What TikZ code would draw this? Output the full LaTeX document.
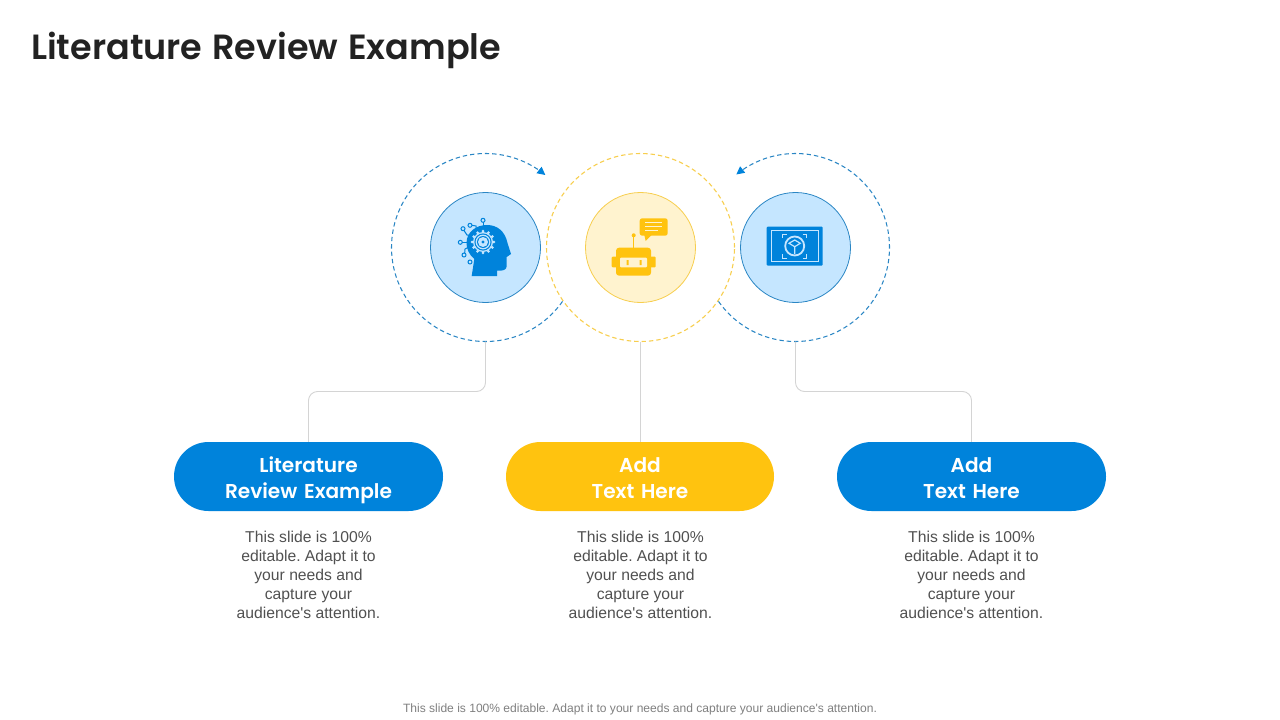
\documentclass[tikz,border=0pt]{standalone}
\usepackage{fontspec}
\setmainfont{Liberation Sans}
\newfontfamily\headfont{Poppins}[BoldFont={Poppins SemiBold},WordSpace=1.2]
\usetikzlibrary{arrows.meta,shapes.misc,calc}
\definecolor{bluemain}{HTML}{0083DB}
\definecolor{bluering}{HTML}{2A86C4}
\definecolor{bluefill}{HTML}{C5E6FF}
\definecolor{yellowmain}{HTML}{FFC30F}
\definecolor{yellowring}{HTML}{F7CE4E}
\definecolor{yellowfill}{HTML}{FFF3CF}
\definecolor{linegray}{HTML}{D4D4D4}
\definecolor{bodytext}{HTML}{505050}
\definecolor{foot}{HTML}{7F7F7F}
\definecolor{titletext}{HTML}{222222}
\newcommand{\pilltext}[2]{\rule{0pt}{26pt}#1\\\strut #2}
\newcommand{\bodycopy}{This slide is 100\%\\editable. Adapt it to\\your needs and\\capture your\\audience\textquotesingle s attention.}
\tikzset{
 hub/.style={circle,inner sep=0pt,minimum size=110pt,line width=.8pt},
 bluehub/.style={hub,draw=bluering,fill=bluefill},
 yellowhub/.style={hub,draw=yellowring,fill=yellowfill},
 ringnode/.style={circle,inner sep=0pt,minimum size=188pt},
 bluearc/.style={draw=bluering,line width=1.05pt,dash pattern=on 4.4pt off 3pt},
 yellowarc/.style={draw=yellowring,line width=1.1pt,dash pattern=on 4.4pt off 3pt},
 arrowpart/.style={-{Triangle[length=8pt,width=8pt,color=bluemain]}},
 conn/.style={draw=linegray,line width=.9pt,rounded corners=9pt},
 pill/.style={rounded rectangle,inner sep=0pt,minimum width=269pt,minimum height=69pt,text width=230pt,align=center,text=white,
   font=\headfont\bfseries\fontsize{20.1}{26}\selectfont},
 body/.style={align=center,text=bodytext,inner sep=0pt,font=\frenchspacing\fontsize{15.7}{19}\selectfont},
}
\begin{document}
\begin{tikzpicture}[x=1pt,y=-1pt]
\useasboundingbox (0,0) rectangle (1280,720);
\node[anchor=west,inner sep=0pt,text=titletext,font=\headfont\bfseries\fontsize{35}{40}\selectfont] (title) at (31,50.5) {Literature Review Example};
% rings
\node[ringnode] (ring1) at (485.5,247.5) {};
\node[ringnode] (ring3) at (795.5,247.5) {};
\node[ringnode,yellowarc] (ring2) at (640.5,247.5) {};
% dashed arcs: drawn in screen coordinates, angle measured with y downward
\draw[bluearc,arrowpart] plot[smooth,samples=90,domain=35:309.5,variable=\t] ({485.5+94*cos(\t)},{247.5+94*sin(\t)});
\draw[bluearc,arrowpart] plot[smooth,samples=90,domain=145:-129,variable=\t] ({795.5+94*cos(\t)},{247.5+94*sin(\t)});
% hubs
\node[bluehub] (hub1) at (485.5,247.5) {};
\node[yellowhub] (hub2) at (640.5,247.5) {};
\node[bluehub] (hub3) at (795.5,247.5) {};
% pills
\node[pill,fill=bluemain] (pill1) at (308.5,476.5) {\pilltext{Literature}{Review Example}};
\node[pill,fill=yellowmain,minimum width=268pt] (pill2) at (640,476.5) {\pilltext{Add}{Text Here}};
\node[pill,fill=bluemain] (pill3) at (971.5,476.5) {\pilltext{Add}{Text Here}};
% connectors
\coordinate (mid1) at (397,391.5);
\coordinate (mid3) at (884,391.5);
\draw[conn] (ring1.south) |- (mid1) -| (pill1.north);
\draw[conn] (ring2.south) -- (ring2.south |- pill2.north);
\draw[conn] (ring3.south) |- (mid3) -| (pill3.north);
\fill[linegray] (347,391) rectangle (447,392.4);
\fill[linegray] (835,391) rectangle (933,392.4);
% body
\node[body,anchor=north] (b1) at (308.5,531) {\bodycopy};
\node[body,anchor=north] (b2) at (640.5,531) {\bodycopy};
\node[body,anchor=north] (b3) at (971.5,531) {\bodycopy};
\node[text=foot,inner sep=0pt,font=\frenchspacing\fontsize{12.05}{14}\selectfont] (foot) at (640,709.5) {This slide is 100\% editable. Adapt it to your needs and capture your audience\textquotesingle s attention.};
% head icon
\fill[bluemain] (471.7,276) -- (474.3,259) .. controls (469,254.5) and (466.5,249) .. (466.5,243) .. controls (466.5,232) and (476,225) .. (487,225) .. controls (497,225) and (505,231) .. (507.5,243) -- (511,254) -- (506.7,257) -- (506.7,266) .. controls (506.7,270) and (503,271) .. (497,270.7) -- (497,276) -- cycle;
\fill[bluefill] (483,242) circle[radius=10];
\foreach \a in {0,30,...,330} \fill[bluefill] (483,242) ++(\a:10.8) circle[radius=1.5];
\fill[bluemain] (483,242) circle[radius=8.6];
\fill[bluefill] (483,242) circle[radius=7.4];
\fill[bluemain] (483,242) circle[radius=6];
\fill[bluefill] (483,242) circle[radius=5];
\fill[bluemain] (483,242) circle[radius=1.7];
\begin{scope}[draw=bluemain,line width=1pt]
\draw (483,222.3) -- (483,228);
\draw (483,220.3) circle[radius=2];
\draw (470,225.3) circle[radius=2];
\draw (472,225.3) -- (476,226) -- (476,230);
\draw (463,228.7) circle[radius=2];
\draw (464,230.5) -- (467,235) -- (470,235);
\draw (460.3,242.3) circle[radius=2];
\draw (462.3,242.3) -- (467,242.3);
\draw (464,255) circle[radius=2];
\draw (464.7,253) -- (465,249) -- (469,247);
\draw (470,262) circle[radius=2];
\end{scope}
% robot icon
\fill[yellowmain,rounded corners=2.5pt] (639.7,218.3) rectangle (667.7,235.7);
\fill[yellowmain] (644.3,235) -- (645.7,241) -- (651.7,235) -- cycle;
\draw[yellowfill,line width=1pt] (645,222.7) -- (662.3,222.7) (645,226.7) -- (662.3,226.7) (645,230.7) -- (658,230.7);
\draw[yellowmain,line width=1.3pt] (633.7,236) -- (633.7,249);
\fill[yellowmain] (633.7,235.3) circle[radius=2];
\fill[yellowmain,rounded corners=1pt] (611.7,256.7) rectangle (655.7,267.3);
\fill[yellowmain,rounded corners=3pt] (616,247.7) rectangle (651,275.7);
\fill[yellowfill,rounded corners=1pt] (620,257.7) rectangle (647,267.3);
\fill[yellowmain] (626.5,260) rectangle (628.5,265) (639.5,260) rectangle (641.5,265);
% cube icon
\fill[bluemain,rounded corners=1pt] (766.7,226.7) rectangle (822.7,265.7);
\draw[bluefill,line width=1.1pt] (771.7,230.7) rectangle (818.3,261.7);
\draw[bluefill,line width=.9pt] (782.7,238) -- (782.7,234.3) -- (787,234.3) (802.5,234.3) -- (806.7,234.3) -- (806.7,238) (806.7,254) -- (806.7,258) -- (802.5,258) (787,258) -- (782.7,258) -- (782.7,254);
\draw[bluefill,line width=1.8pt] (794.7,246) circle[radius=9.5];
\draw[bluefill,line width=1.2pt] (789,243.3) -- (794.7,240) -- (800.3,243.3) -- (794.7,246.7) -- cycle (794.7,246.7) -- (794.7,254);
\end{tikzpicture}
\end{document}
